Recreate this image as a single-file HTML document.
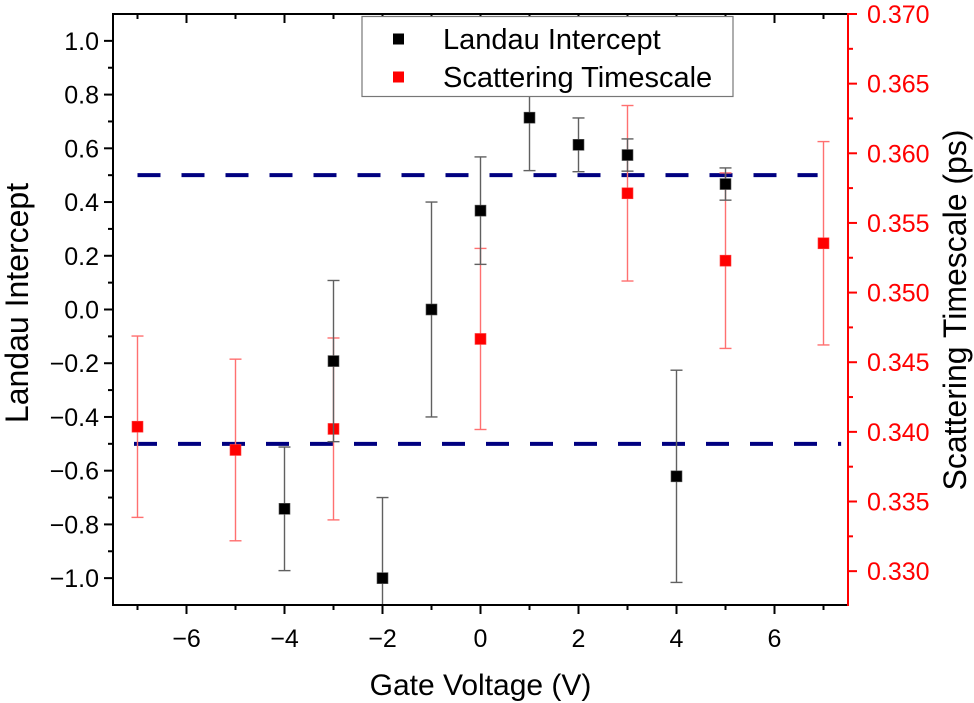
<!DOCTYPE html>
<html><head><meta charset="utf-8"><style>
html,body{margin:0;padding:0;background:#fff;}
svg{display:block;font-family:"Liberation Sans",Arial,sans-serif;}
</style></head><body>
<svg id="chart" width="974" height="703" viewBox="0 0 974 703" xmlns="http://www.w3.org/2000/svg">
<defs><clipPath id="plotclip"><rect x="113" y="14" width="735" height="591"/></clipPath></defs>
</svg>
<script>
const xVals = [-4, -3, -2, -1, 0, 1, 2, 3, 4, 5];
const landau = [-0.742, -0.192, -1.0, 0.0, 0.368, 0.714, 0.613, 0.575, -0.621, 0.467];
const landauErr = [0.23, 0.30, 0.30, 0.40, 0.20, 0.197, 0.10, 0.06, 0.395, 0.06];
const xRed = [-7, -5, -3, 0, 3, 5, 7];
const scatter = [0.34037, 0.3387, 0.34021, 0.34667, 0.35713, 0.35229, 0.35354];
const scatterErr = [0.00651, 0.00652, 0.00653, 0.0065, 0.0063, 0.0063, 0.0073];
const xTicks = [-6, -4, -2, 0, 2, 4, 6];
const yLeftTicks = [-1.0, -0.8, -0.6, -0.4, -0.2, 0.0, 0.2, 0.4, 0.6, 0.8, 1.0];
const yRightTicks = [0.330, 0.335, 0.340, 0.345, 0.350, 0.355, 0.360, 0.365, 0.370];
const refLines = [0.5, -0.5];

const L=113, R=848, T=14, B=605;
const xMin=-7.5, xMax=7.5, yMin=-1.1, yMax=1.1, rMin=0.32757, rMax=0.370;
const sx = v => L + (v - xMin) / (xMax - xMin) * (R - L);
const sy = v => B - (v - yMin) / (yMax - yMin) * (B - T);
const sr = v => B - (v - rMin) / (rMax - rMin) * (B - T);
const svg = document.getElementById('chart');
const NS = 'http://www.w3.org/2000/svg';
function mk(tag, attrs, parent){const e=document.createElementNS(NS,tag);for(const k in attrs)e.setAttribute(k,attrs[k]);(parent||svg).appendChild(e);return e;}
function ln(x1,y1,x2,y2,stroke,w,p){return mk('line',{x1,y1,x2,y2,stroke,'stroke-width':w},p);}

// ref dashed lines
const refG = mk('g',{'clip-path':'url(#plotclip)'});


refLines.forEach((v,i)=>{
  const l = i===0 ? ln(sx(-7), sy(v), sx(6.88), sy(v), '#000080', 4, refG) : ln(sx(-7.5), sy(v), sx(7.36), sy(v), '#000080', 4, refG);
  l.setAttribute('stroke-dasharray', '23 21');
  if(i===1) l.setAttribute('stroke-dashoffset','23');
  
  
});

// red series
const redG = mk('g',{'clip-path':'url(#plotclip)'});


xRed.forEach((x,i)=>{
  const cx=sx(x), y0=sr(scatter[i]-scatterErr[i]), y1=sr(scatter[i]+scatterErr[i]);
  const eb=mk('g',{},redG);
  
  
  ln(cx,y0,cx,y1,'#ff7070',1.4,eb); ln(cx-6,y0,cx+6,y0,'#ff7070',1.4,eb); ln(cx-6,y1,cx+6,y1,'#ff7070',1.4,eb);
  const m=mk('rect',{x:cx-5.5,y:sr(scatter[i])-5.5,width:11,height:11,fill:'#ff0000',stroke:'#ff4040','stroke-width':0.6},redG);
  
  
});

// black series
const blkG = mk('g',{'clip-path':'url(#plotclip)'});


xVals.forEach((x,i)=>{
  const cx=sx(x), y0=sy(landau[i]-landauErr[i]), y1=sy(landau[i]+landauErr[i]);
  const eb=mk('g',{},blkG);
  
  
  ln(cx,y0,cx,y1,'#606060',1.4,eb); ln(cx-6,y0,cx+6,y0,'#606060',1.4,eb); ln(cx-6,y1,cx+6,y1,'#606060',1.4,eb);
  const m=mk('rect',{x:cx-5.5,y:sy(landau[i])-5.5,width:11,height:11,fill:'#000',stroke:'#555','stroke-width':0.6},blkG);
  
  
});

// axes
const ax = mk('g',{});


ln(L,T,R,T,'#000',2,ax); ln(L,B,R,B,'#000',2,ax); ln(L,T-1,L,B+1,'#000',2,ax);
ln(R,T-1,R,B+1,'#ff0000',2,ax);
for(let v=-7; v<=7; v++){
  const maj = v%2===0; const x=sx(v);
  ln(x,B,x,B+(maj?9:5),'#000',2,ax);
  ln(x,T,x,T+(maj?9:5),'#000',2,ax);
}
xTicks.forEach(v=>{
  const t=mk('text',{x:sx(v),y:B+42,'font-size':25,'text-anchor':'middle',fill:'#000'},ax);
  t.textContent = v<0 ? '\u2212'+Math.abs(v) : String(v);
  
  
});
for(let k=-10;k<=10;k++){
  const v=k/10, y=sy(v), maj=k%2===0;
  ln(L,y,L-(maj?9:5),y,'#000',2,ax);
}
yLeftTicks.forEach(v=>{
  const t=mk('text',{x:L-14,y:sy(v)+9,'font-size':25,'text-anchor':'end',fill:'#000'},ax);
  t.textContent = v<0 ? '\u2212'+Math.abs(v).toFixed(1) : v.toFixed(1);
  
  
});
for(let k=0;k<=16;k++){
  const v=0.330+k*0.0025, y=sr(v), maj=k%2===0;
  ln(R,y,R+(maj?9:5),y,'#ff0000',2,ax);
}
yRightTicks.forEach(v=>{
  const t=mk('text',{x:R+19,y:sr(v)+9,'font-size':25,'text-anchor':'start',fill:'#ff0000'},ax);
  t.textContent = v.toFixed(3);
  
  
});

// titles
let t=mk('text',{x:0,y:0,'font-size':30,'text-anchor':'middle',fill:'#000',transform:`translate(${(L+R)/2},695)`});
t.textContent='Gate Voltage (V)';


t=mk('text',{x:0,y:0,'font-size':32,'text-anchor':'middle',fill:'#000',transform:`translate(28,303) rotate(-90)`});
t.textContent='Landau Intercept';


t=mk('text',{x:0,y:0,'font-size':32,'text-anchor':'middle',fill:'#000',transform:`translate(966,310) rotate(-90)`});
t.textContent='Scattering Timescale (ps)';



// legend
const lg=mk('g',{});


mk('rect',{x:362,y:16.5,width:371,height:80,fill:'#fff',stroke:'#777','stroke-width':1.2},lg);
const items=[['Landau Intercept','#000',39],['Scattering Timescale','#ff0000',77]];
items.forEach(it=>{
  const e=mk('g',{},lg);
  
  
  mk('rect',{x:393,y:it[2]-5.5,width:11,height:11,fill:it[1]},e);
  const tx=mk('text',{x:443,y:it[2]+10,'font-size':29,fill:'#000'},e);
  tx.textContent=it[0];
});
</script>
</body></html>
